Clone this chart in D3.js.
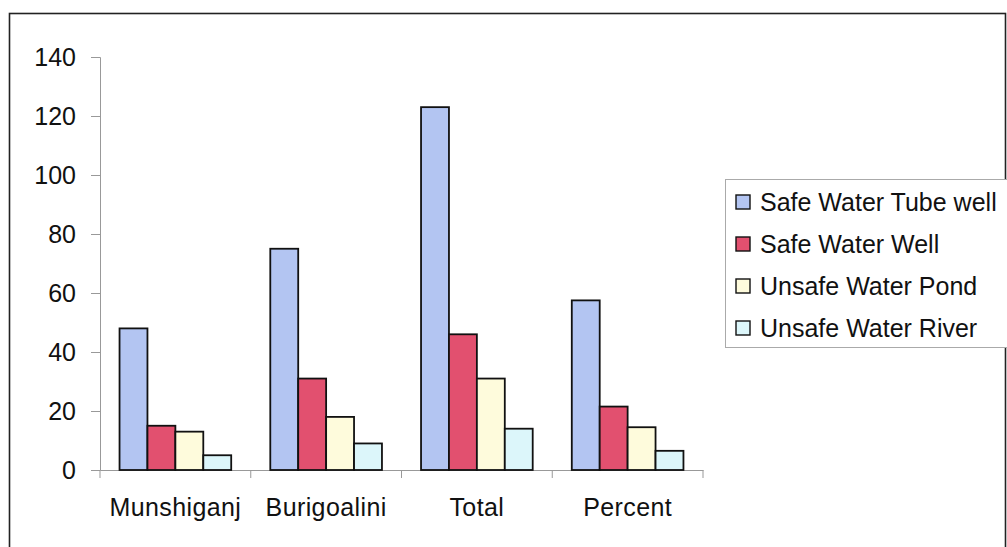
<!DOCTYPE html>
<html>
<head>
<meta charset="utf-8">
<script src="https://cdn.jsdelivr.net/npm/d3@7"></script>
<style>
  html, body { margin: 0; padding: 0; background: #fff; }
  svg { display: block; }
  text { font-family: "Liberation Sans", Arial, sans-serif; fill: #111; }
</style>
</head>
<body>
<svg id="chart" width="1007" height="547"></svg>
<script>
const categories = ["Munshiganj", "Burigoalini", "Total", "Percent"];
const seriesNames = ["Safe Water Tube well", "Safe Water Well", "Unsafe Water Pond", "Unsafe Water River"];
const tubeWell = [48, 75, 123, 57.5];
const well = [15, 31, 46, 21.5];
const pond = [13, 18, 31, 14.5];
const river = [5, 9, 14, 6.5];
const seriesValues = [tubeWell, well, pond, river];
const seriesColors = ["#b3c5f2", "#e2506f", "#fefbdc", "#dcf6fa"];
const yTicks = [0, 20, 40, 60, 80, 100, 120, 140];

const svg = d3.select("#chart");

// outer chart border
svg.append("rect")
  .attr("x", 9.5).attr("y", 13.5)
  .attr("width", 996).attr("height", 560)
  .attr("fill", "none").attr("stroke", "#222").attr("stroke-width", 1.6);

const plot = { left: 100, right: 703, top: 57, bottom: 470 };

const x0 = d3.scaleBand().domain(categories).range([plot.left, plot.right]).paddingInner(0).paddingOuter(0);
const bw = x0.bandwidth();
const barW = bw / (4 + 1.4);
const x1 = d3.scaleBand().domain(seriesNames).range([0.7 * barW, 0.7 * barW + 4 * barW]).padding(0);
const y = d3.scaleLinear().domain([0, 140]).range([plot.bottom, plot.top]);

// y axis
const yAxis = d3.axisLeft(y).tickValues(yTicks).tickSize(9).tickPadding(15).tickFormat(d3.format("d"));
const gy = svg.append("g").attr("transform", `translate(${plot.left},0)`).call(yAxis);
gy.select(".domain").attr("stroke", "#999").attr("stroke-width", 1);
gy.selectAll(".tick line").attr("stroke", "#999");
gy.selectAll(".tick text").style("font-size", "25px").attr("fill", "#111").attr("dy", "0.35em");

// x axis
const xAxis = d3.axisBottom(x0).tickSize(0).tickPadding(28);
const gx = svg.append("g").attr("transform", `translate(0,${plot.bottom})`).call(xAxis);
gx.select(".domain").attr("stroke", "#999").attr("stroke-width", 1);
gx.selectAll(".tick text").style("font-size", "25px").style("letter-spacing", "0.4px")
  .attr("fill", "#111").attr("dy", "0.71em");
// category separators
const bounds = categories.map(c => x0(c)).concat([x0(categories[categories.length - 1]) + bw]);
gx.selectAll(".sep").data(bounds).join("line")
  .attr("x1", d => d).attr("x2", d => d)
  .attr("y1", 0).attr("y2", 8)
  .attr("stroke", "#999");

// bars
const groups = svg.append("g").selectAll("g").data(categories).join("g")
  .attr("transform", c => `translate(${x0(c)},0)`);
groups.selectAll("rect")
  .data((c, ci) => seriesNames.map((s, si) => ({ s, si, v: seriesValues[si][ci] })))
  .join("rect")
  .attr("x", d => x1(d.s))
  .attr("width", x1.bandwidth())
  .attr("y", d => y(d.v))
  .attr("height", d => y(0) - y(d.v))
  .attr("fill", d => seriesColors[d.si])
  .attr("stroke", "#111").attr("stroke-width", 1.8);

// legend
const lg = svg.append("g");
lg.append("rect")
  .attr("x", 725.5).attr("y", 179.5).attr("width", 300).attr("height", 168)
  .attr("fill", "#fff").attr("stroke", "#aaa").attr("stroke-width", 1);
const items = lg.selectAll("g.item").data(seriesNames).join("g").attr("class", "item")
  .attr("transform", (d, i) => `translate(736,${202 + i * 42})`);
items.append("rect")
  .attr("x", 0).attr("y", -7).attr("width", 14).attr("height", 14)
  .attr("fill", (d, i) => seriesColors[i]).attr("stroke", "#111").attr("stroke-width", 1.4);
items.append("text")
  .attr("x", 24).attr("y", 0).attr("dy", "0.36em")
  .style("font-size", "25px")
  .text(d => d);
</script>
</body>
</html>
